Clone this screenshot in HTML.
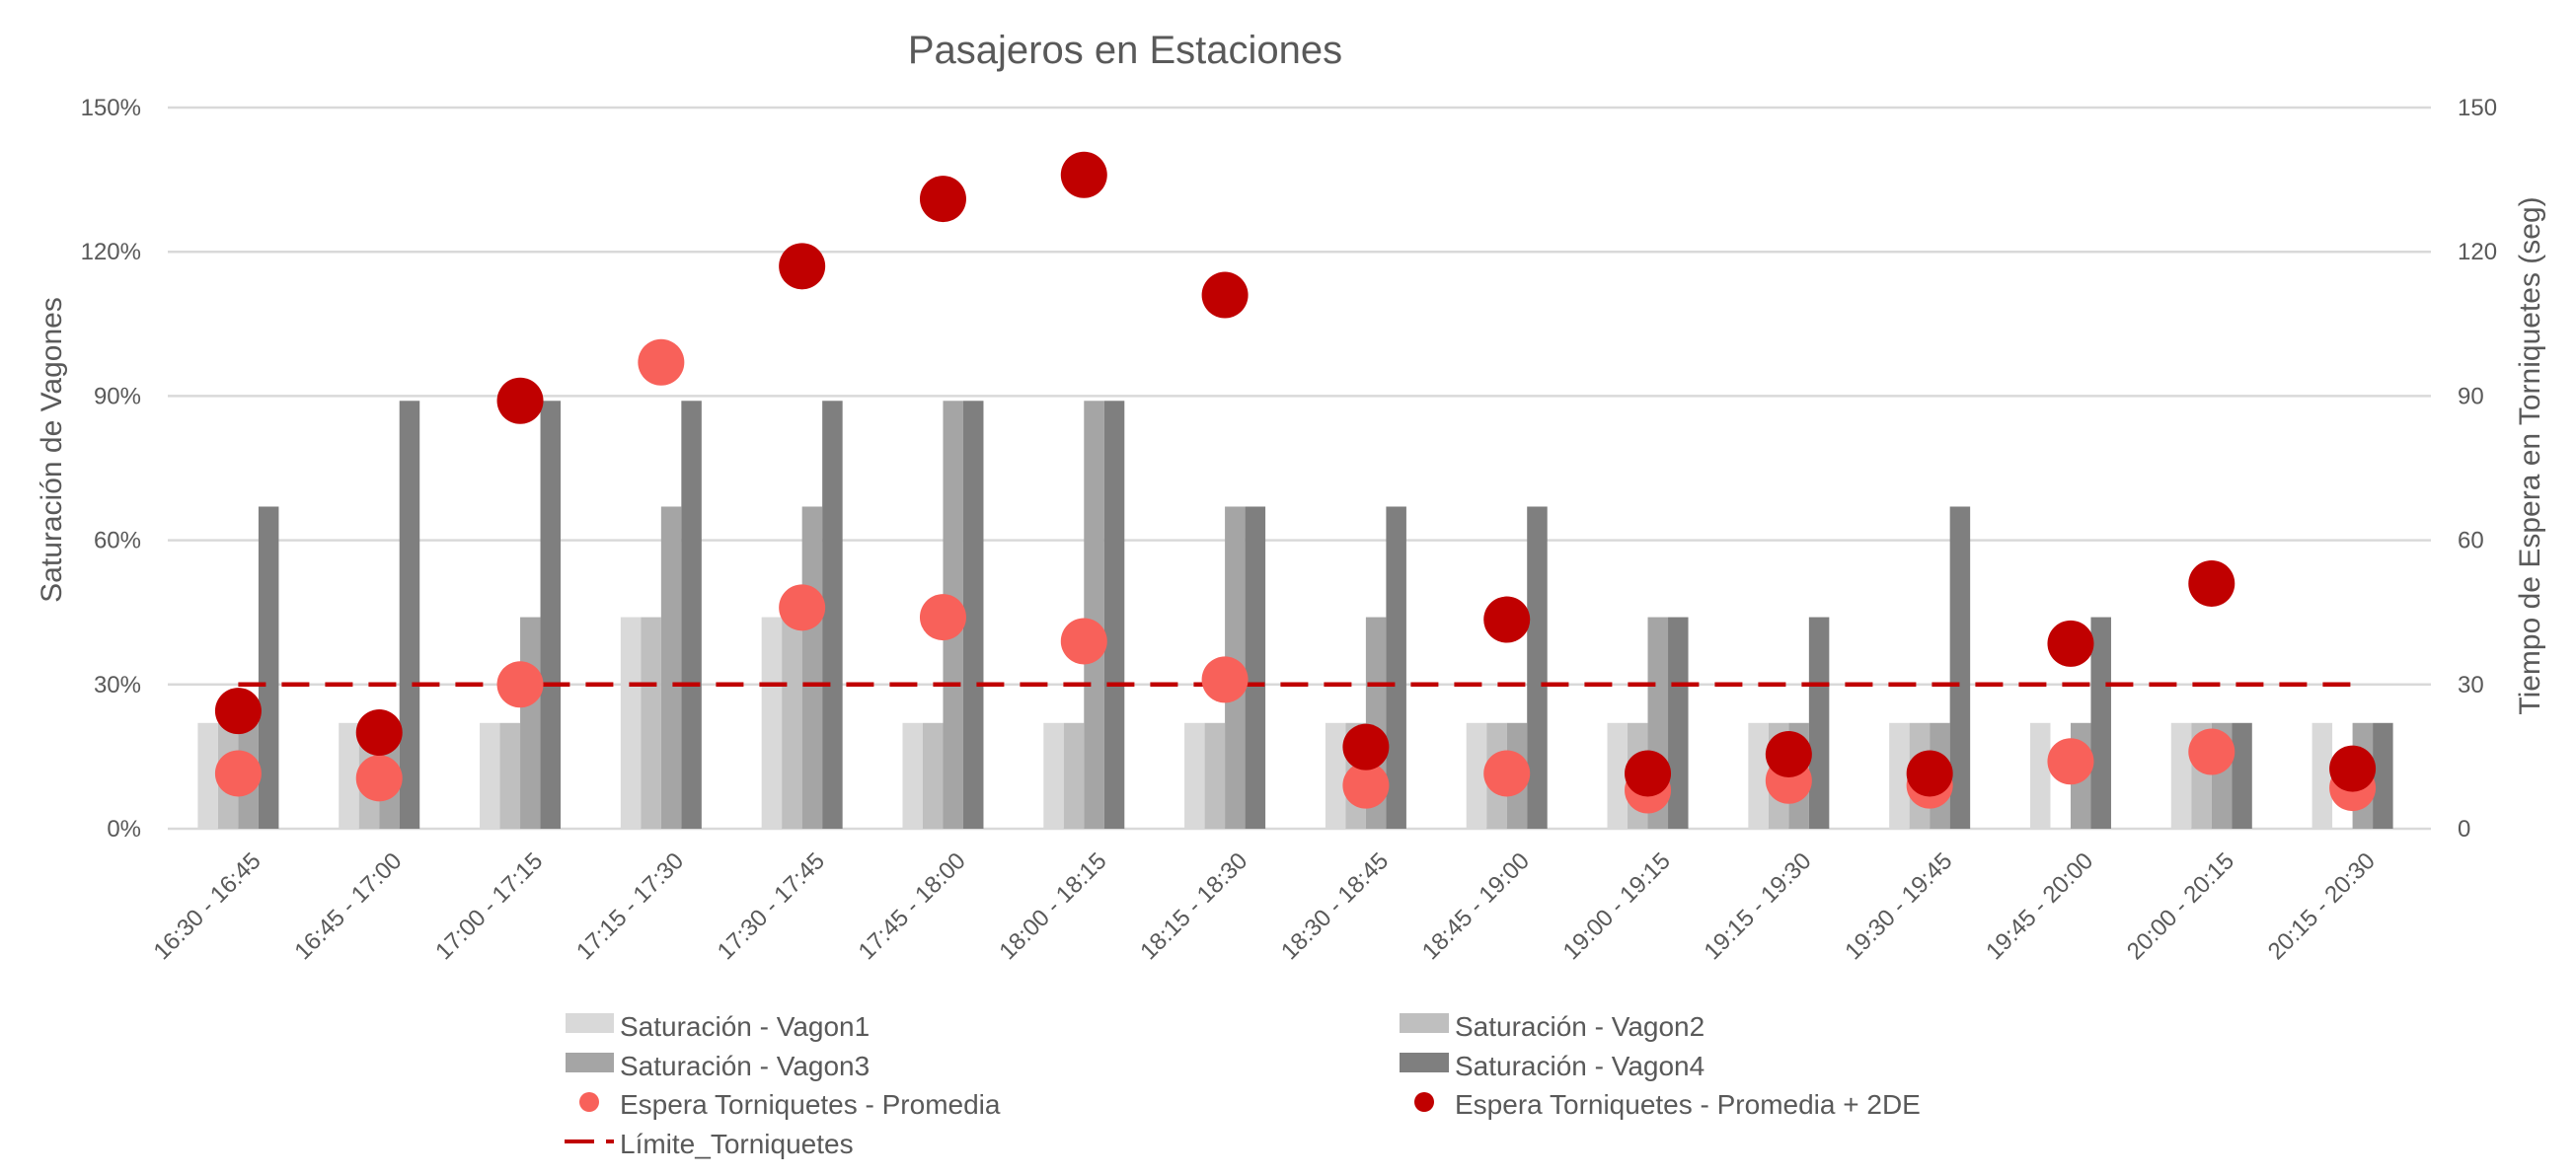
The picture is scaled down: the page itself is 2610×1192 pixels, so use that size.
<!DOCTYPE html>
<html><head><meta charset="utf-8"><style>
html,body{margin:0;padding:0;background:#fff;}
svg{display:block;font-family:"Liberation Sans",sans-serif;}
</style></head><body>
<svg id="chart" width="2610" height="1192" viewBox="0 0 2610 1192" xmlns="http://www.w3.org/2000/svg">
<text x="1140" y="64" font-size="40" fill="#595959" text-anchor="middle">Pasajeros en Estaciones</text>
<g id="grid"></g>
<g id="bars"></g>
<g id="limit"></g>
<g id="dots"></g>
<g id="xlabels"></g>
<text transform="translate(62,456) rotate(-90)" font-size="30" fill="#595959" text-anchor="middle">Saturación de Vagones</text>
<text transform="translate(2573,462) rotate(-90)" font-size="30" fill="#595959" text-anchor="middle">Tiempo de Espera en Torniquetes (seg)</text>
<g font-size="28" fill="#595959">
<rect x="573" y="1027" width="49" height="20" fill="#d9d9d9"/>
<text x="628" y="1050">Saturación - Vagon1</text>
<rect x="1418" y="1027" width="50" height="20" fill="#bfbfbf"/>
<text x="1474" y="1050">Saturación - Vagon2</text>
<rect x="573" y="1067" width="49" height="20" fill="#a5a5a5"/>
<text x="628" y="1090">Saturación - Vagon3</text>
<rect x="1418" y="1067" width="50" height="20" fill="#7f7f7f"/>
<text x="1474" y="1090">Saturación - Vagon4</text>
<circle cx="597" cy="1117" r="10" fill="#f8615a"/>
<text x="628" y="1129">Espera Torniquetes - Promedia</text>
<circle cx="1443" cy="1117" r="10" fill="#c00000"/>
<text x="1474" y="1129">Espera Torniquetes - Promedia + 2DE</text>
<line x1="572" y1="1157" x2="622" y2="1157" stroke="#c00000" stroke-width="4" stroke-dasharray="30 12"/>
<text x="628" y="1169">Límite_Torniquetes</text>
</g>
</svg>
<script>
const categories = ["16:30 - 16:45","16:45 - 17:00","17:00 - 17:15","17:15 - 17:30","17:30 - 17:45","17:45 - 18:00","18:00 - 18:15","18:15 - 18:30","18:30 - 18:45","18:45 - 19:00","19:00 - 19:15","19:15 - 19:30","19:30 - 19:45","19:45 - 20:00","20:00 - 20:15","20:15 - 20:30"];
const vagon1 = [22,22,22,44,44,22,22,22,22,22,22,22,22,22,22,22];
const vagon2 = [22,22,22,44,44,22,22,22,22,22,22,22,22,0,22,0];
const vagon3 = [22,22,44,67,67,89,89,67,44,22,44,22,22,22,22,22];
const vagon4 = [67,89,89,89,89,89,89,67,67,67,44,44,67,44,22,22];
const promedia = [11.5,10.5,30,97,46,44,39,31,9,11.5,8,10,9,14,16,8.5];
const promedia2de = [24.5,20,89,null,117,131,136,111,17,43.5,11.5,15.5,11.5,38.5,51,12.5];
const limite = 30;
const leftTicks = ["0%","30%","60%","90%","120%","150%"];
const rightTicks = ["0","30","60","90","120","150"];

const NS = "http://www.w3.org/2000/svg";
const X0 = 170, X1 = 2455, Y0 = 840, YTOP = 109;
const groupW = (X1 - X0) / categories.length;
const xC = i => X0 + groupW * (i + 0.5);
const yL = v => Y0 - (v / 150) * (Y0 - YTOP);
const yR = v => Y0 - (v / 150) * (Y0 - YTOP);
function mk(tag, attrs, parent) {
  const e = document.createElementNS(NS, tag);
  for (const k in attrs) e.setAttribute(k, attrs[k]);
  parent.appendChild(e);
  return e;
}
const grid = document.getElementById('grid');
leftTicks.forEach((t, i) => {
  const v = i * 30;
  const ln = mk('line', {x1: X0, x2: X1 + 8, y1: yL(v), y2: yL(v), stroke: '#d9d9d9', 'stroke-width': 2.5}, grid);
  
  
  const tl = mk('text', {x: 143, y: yL(v) + 8, 'font-size': 24, fill: '#595959', 'text-anchor': 'end'}, grid);
  tl.textContent = t;
  
  
  const tr = mk('text', {x: 2490, y: yR(Number(rightTicks[i])) + 8, 'font-size': 24, fill: '#595959'}, grid);
  tr.textContent = rightTicks[i];
  
  
});
const bars = document.getElementById('bars');
const series = [vagon1, vagon2, vagon3, vagon4];
const colors = ['#d9d9d9', '#bfbfbf', '#a5a5a5', '#7f7f7f'];
const bw = 20.5;
categories.forEach((c, i) => {
  series.forEach((s, k) => {
    const v = s[i];
    if (!v) return;
    const r = mk('rect', {x: xC(i) - 2 * bw + k * bw, y: yL(v), width: bw, height: Y0 - yL(v), fill: colors[k]}, bars);
    
    
  });
});
const lim = document.getElementById('limit');
const ll = mk('line', {x1: xC(0), x2: xC(categories.length - 1), y1: yR(limite), y2: yR(limite), stroke: '#c00000', 'stroke-width': 4.5, 'stroke-dasharray': '28 16'}, lim);


const dots = document.getElementById('dots');
promedia.forEach((v, i) => {
  if (v == null) return;
  const d = mk('circle', {cx: xC(i), cy: yR(v), r: 23.5, fill: '#f8615a'}, dots);
  
  
});
promedia2de.forEach((v, i) => {
  if (v == null) return;
  const d = mk('circle', {cx: xC(i), cy: yR(v), r: 23.5, fill: '#c00000'}, dots);
  
  
});
const xl = document.getElementById('xlabels');
categories.forEach((c, i) => {
  const t = mk('text', {transform: `translate(${xC(i) + 24},${Y0 + 34}) rotate(-45)`, 'font-size': 24, fill: '#595959', 'text-anchor': 'end'}, xl);
  t.textContent = c;
  
  
});
</script>
</body></html>
